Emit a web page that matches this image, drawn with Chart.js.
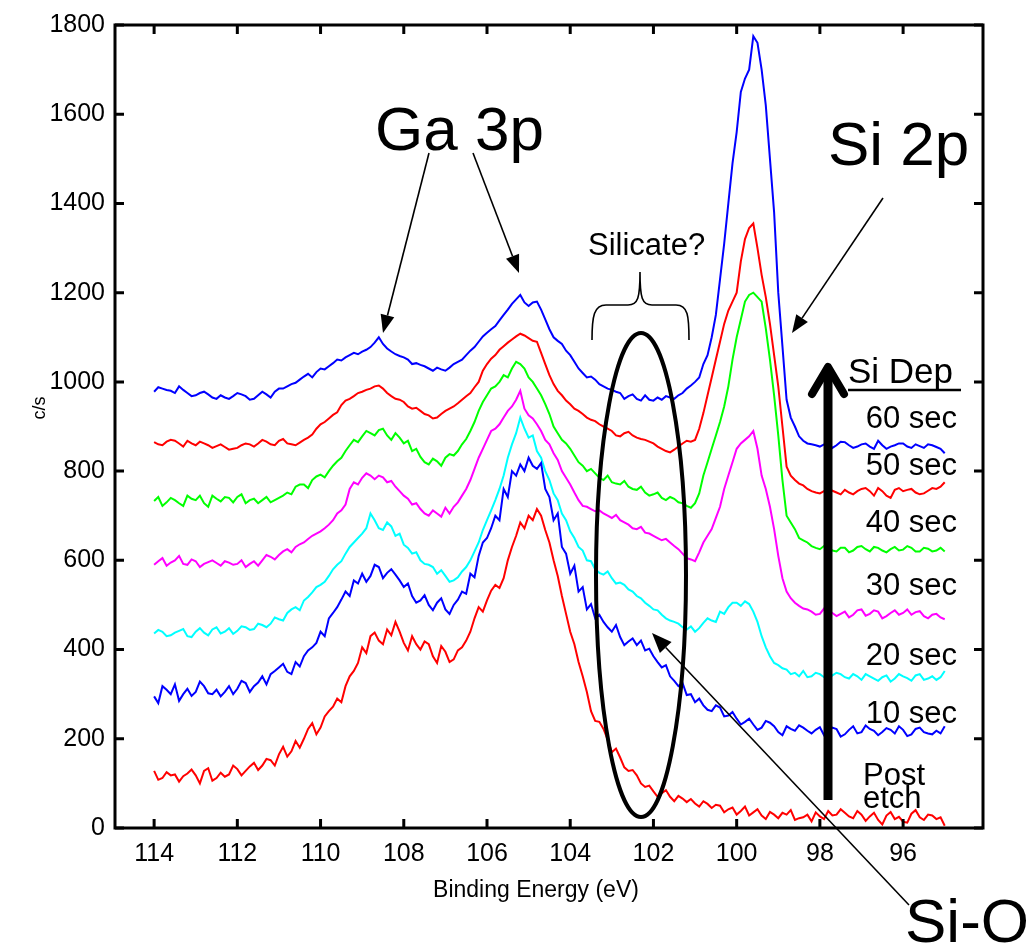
<!DOCTYPE html>
<html><head><meta charset="utf-8">
<script src="https://cdn.jsdelivr.net/npm/chart.js@4.4.1/dist/chart.umd.min.js"></script>
<style>html,body{margin:0;padding:0;background:#fff;}#wrap{width:1027px;height:948px;}</style>
</head><body><div id="wrap"><canvas id="c" width="1027" height="948"></canvas></div>
<script>
// Binding energy grid (eV)
const energies = [114.0,113.9,113.8,113.7,113.6,113.5,113.4,113.3,113.2,113.1,
 113.0,112.9,112.8,112.7,112.6,112.5,112.4,112.3,112.2,112.1,
 112.0,111.9,111.8,111.7,111.6,111.5,111.4,111.3,111.2,111.1,
 111.0,110.9,110.8,110.7,110.6,110.5,110.4,110.3,110.2,110.1,
 110.0,109.9,109.8,109.7,109.6,109.5,109.4,109.3,109.2,109.1,
 109.0,108.9,108.8,108.7,108.6,108.5,108.4,108.3,108.2,108.1,
 108.0,107.9,107.8,107.7,107.6,107.5,107.4,107.3,107.2,107.1,
 107.0,106.9,106.8,106.7,106.6,106.5,106.4,106.3,106.2,106.1,
 106.0,105.9,105.8,105.7,105.6,105.5,105.4,105.3,105.2,105.1,
 105.0,104.9,104.8,104.7,104.6,104.5,104.4,104.3,104.2,104.1,
 104.0,103.9,103.8,103.7,103.6,103.5,103.4,103.3,103.2,103.1,
 103.0,102.9,102.8,102.7,102.6,102.5,102.4,102.3,102.2,102.1,
 102.0,101.9,101.8,101.7,101.6,101.5,101.4,101.3,101.2,101.1,
 101.0,100.9,100.8,100.7,100.6,100.5,100.4,100.3,100.2,100.1,
 100.0,99.9,99.8,99.7,99.6,99.5,99.4,99.3,99.2,99.1,
 99.0,98.9,98.8,98.7,98.6,98.5,98.4,98.3,98.2,98.1,
 98.0,97.9,97.8,97.7,97.6,97.5,97.4,97.3,97.2,97.1,
 97.0,96.9,96.8,96.7,96.6,96.5,96.4,96.3,96.2,96.1,
 96.0,95.9,95.8,95.7,95.6,95.5,95.4,95.3,95.2,95.1,
 95.0];

const postEtch = [128,108,112,125,118,120,104,116,122,131,
 118,100,128,134,106,112,124,115,120,140,
 132,118,128,138,146,130,140,155,152,140,
 165,182,160,172,195,180,200,222,235,210,
 225,250,262,272,290,282,318,340,352,370,
 405,392,430,438,420,412,445,432,462,440,
 415,398,430,412,400,418,412,385,370,408,
 395,372,378,398,405,420,440,470,495,485,
 510,532,545,538,560,600,630,655,685,672,
 700,690,715,700,668,640,600,565,520,480,
 440,412,372,340,305,262,240,238,222,198,
 170,178,158,136,128,130,118,100,92,95,
 82,70,78,85,70,60,72,66,58,65,
 55,48,60,54,45,52,50,35,42,46,
 30,38,48,28,35,42,28,20,36,30,
 22,34,30,40,18,22,24,30,15,35,
 26,20,38,28,30,42,34,26,22,38,
 30,16,26,34,18,8,28,36,20,25,
 14,12,32,40,24,18,30,28,20,24,
 5];

const sec10 = [295,280,318,310,300,322,285,300,312,296,
 305,328,318,302,300,310,295,305,318,300,
 312,330,325,305,318,326,340,322,345,352,
 360,368,350,345,372,362,385,398,405,415,
 440,430,470,482,495,512,530,520,555,548,
 570,552,565,590,585,560,572,580,568,555,
 540,548,520,505,510,522,500,488,505,515,
 490,480,500,512,530,525,570,562,610,640,
 650,672,700,690,760,742,800,790,815,800,
 830,812,805,818,760,742,690,705,630,615,
 570,588,530,540,490,502,470,478,462,450,
 440,455,428,410,418,425,410,420,398,402,
 385,372,360,365,340,330,318,325,298,300,
 282,290,275,265,262,275,270,250,252,260,
 245,232,238,245,232,220,225,240,236,228,
 215,208,228,222,218,230,225,218,212,220,
 226,208,215,225,222,205,210,220,228,212,
 215,230,222,218,208,215,224,220,212,228,
 220,206,210,222,225,215,212,210,218,212,
 228];

const sec20 = [436,444,440,430,432,438,442,446,430,428,
 440,448,438,432,445,450,436,440,448,435,
 442,452,450,444,446,458,455,450,458,472,
 468,465,482,490,495,488,510,518,528,540,
 545,552,565,580,590,598,615,630,640,650,
 660,672,705,690,672,668,685,676,655,660,
 635,628,615,618,600,592,590,585,570,578,
 565,552,555,562,575,585,600,620,640,668,
 690,712,735,760,790,830,860,885,920,895,
 875,880,845,830,800,780,750,735,705,690,
 665,650,630,622,600,598,580,572,568,575,
 560,548,550,545,535,530,520,515,505,498,
 490,488,478,470,465,462,458,450,445,452,
 440,448,460,470,465,462,485,480,495,505,
 505,498,508,502,485,462,430,405,385,370,
 365,358,355,345,348,340,352,338,340,348,
 345,338,335,342,348,345,338,335,345,340,
 332,345,340,335,330,338,342,328,335,345,
 340,336,330,342,345,332,335,340,332,338,
 352];

const sec30 = [590,598,605,588,595,600,610,592,590,602,
 598,585,592,596,600,594,588,598,595,590,
 592,600,585,592,598,588,600,612,608,602,
 612,620,625,618,630,636,640,648,655,660,
 665,672,680,690,705,712,725,760,775,770,
 785,795,790,782,790,786,775,778,765,755,
 745,738,725,728,715,705,700,712,705,698,
 718,705,720,730,745,760,780,805,830,850,
 870,890,895,905,920,935,945,960,980,940,
 925,918,905,890,870,860,840,825,800,785,
 770,752,735,722,720,715,710,712,705,700,
 695,702,690,685,680,672,670,675,662,660,
 655,650,645,648,640,632,625,615,605,602,
 598,618,640,655,670,695,720,760,790,820,
 850,862,870,878,890,850,790,760,720,670,
 610,560,530,515,505,498,492,490,485,478,
 480,492,488,482,475,480,485,472,478,488,
 490,476,480,488,485,470,475,482,488,478,
 482,490,478,484,486,475,470,478,480,472,
 468];

const sec40 = [733,742,722,730,740,735,728,722,745,738,
 735,745,728,720,745,738,732,742,740,730,
 742,748,728,735,738,728,735,742,730,735,
 740,745,752,748,765,770,770,762,780,788,
 792,786,800,812,822,830,845,858,870,865,
 878,890,885,880,892,895,880,870,885,875,
 862,868,845,850,832,820,815,828,822,812,
 830,838,835,845,860,872,890,910,935,955,
 970,985,990,1000,1015,1010,1030,1045,1040,1030,
 1010,1000,985,970,950,928,900,885,870,862,
 850,835,820,812,800,805,795,785,780,790,
 775,772,770,778,765,760,758,765,752,745,
 748,752,740,735,742,738,730,728,722,718,
 728,750,790,820,850,880,910,945,990,1050,
 1100,1140,1180,1195,1200,1190,1180,1120,1050,970,
 880,780,700,685,670,650,645,640,632,628,
 625,632,630,622,620,628,628,618,622,630,
 632,625,620,630,628,622,618,625,630,622,
 624,632,628,620,620,628,626,620,622,628,
 620];

const sec50 = [865,860,858,866,870,868,862,855,868,862,
 858,866,862,858,852,856,860,854,848,850,
 852,858,862,860,855,862,870,866,860,858,
 868,872,862,860,858,864,870,875,882,895,
 905,910,918,926,932,948,958,962,968,975,
 978,982,985,990,992,985,975,968,962,960,
 955,945,940,942,935,928,925,918,920,928,
 935,940,945,952,960,968,975,988,1000,1025,
 1040,1052,1060,1072,1080,1088,1095,1102,1108,1104,
 1098,1092,1090,1065,1040,1015,995,980,970,958,
 950,940,935,928,920,915,912,905,900,895,
 890,880,878,885,888,880,875,872,870,866,
 862,855,850,845,842,848,855,862,868,866,
 870,895,930,970,1010,1050,1090,1130,1160,1180,
 1200,1270,1320,1345,1355,1300,1240,1190,1130,1060,
 990,900,810,790,780,772,768,760,755,752,
 750,755,760,756,752,748,758,752,748,755,
 760,762,755,745,762,755,745,740,758,762,
 755,758,760,752,748,750,756,762,760,765,
 775];

const sec60 = [978,988,985,982,980,975,990,982,975,968,
 970,975,978,972,965,962,970,965,962,968,
 975,972,968,960,962,970,978,972,965,978,
 985,985,990,995,998,1005,1012,1018,1010,1022,
 1030,1028,1035,1042,1050,1048,1055,1060,1065,1062,
 1068,1072,1078,1088,1100,1085,1075,1068,1062,1058,
 1055,1050,1040,1042,1038,1035,1030,1025,1032,1028,
 1025,1032,1040,1045,1050,1060,1070,1078,1090,1102,
 1110,1118,1125,1138,1150,1162,1175,1185,1195,1178,
 1170,1178,1180,1162,1140,1118,1100,1092,1085,1070,
 1060,1045,1030,1020,1010,1012,1005,995,990,985,
 982,978,975,962,968,972,962,958,970,960,
 958,965,960,968,965,962,970,975,985,992,
 1000,1010,1040,1060,1100,1150,1230,1310,1400,1490,
 1560,1650,1680,1700,1775,1760,1700,1620,1500,1380,
 1200,1080,960,920,900,878,868,862,860,858,
 855,860,862,852,858,866,865,858,852,855,
 860,862,855,850,868,858,850,855,858,862,
 862,855,852,860,856,852,860,858,854,850,
 840];

const seriesNames = ['Post etch','10 sec','20 sec','30 sec','40 sec','50 sec','60 sec'];
const seriesColors = ['#ff0000','#0000ff','#00ffff','#ff00ff','#00ff00','#ff0000','#0000ff'];
const seriesValues = [postEtch, sec10, sec20, sec30, sec40, sec50, sec60];

const xTickValues = [114,112,110,108,106,104,102,100,98,96];
const yTickValues = [0,200,400,600,800,1000,1200,1400,1600,1800];

const FONT = "'Liberation Sans', Arial, Helvetica, sans-serif";

function arrow(ctx, x1, y1, x2, y2, head, hw, lw) {
  const ang = Math.atan2(y2 - y1, x2 - x1);
  const bx = x2 - head * Math.cos(ang), by = y2 - head * Math.sin(ang);
  ctx.lineWidth = lw;
  ctx.beginPath(); ctx.moveTo(x1, y1); ctx.lineTo(bx, by); ctx.stroke();
  ctx.beginPath(); ctx.moveTo(x2, y2);
  ctx.lineTo(bx + hw * Math.sin(ang), by - hw * Math.cos(ang));
  ctx.lineTo(bx - hw * Math.sin(ang), by + hw * Math.cos(ang));
  ctx.closePath(); ctx.fill();
}

const framePlugin = {
  id: 'framePlugin',
  afterDatasetsDraw(chart) {
    const {ctx, chartArea: a, scales: {x, y}} = chart;
    ctx.save();
    ctx.strokeStyle = '#000'; ctx.lineWidth = 3;
    ctx.strokeRect(a.left, a.top, a.right - a.left, a.bottom - a.top);
    const tl = 9;
    ctx.beginPath();
    xTickValues.forEach(v => {
      const px = x.getPixelForValue(v);
      ctx.moveTo(px, a.bottom); ctx.lineTo(px, a.bottom - tl);
      ctx.moveTo(px, a.top); ctx.lineTo(px, a.top + tl);
    });
    yTickValues.forEach(v => {
      const py = y.getPixelForValue(v);
      ctx.moveTo(a.left, py); ctx.lineTo(a.left + tl, py);
      ctx.moveTo(a.right, py); ctx.lineTo(a.right - tl, py);
    });
    ctx.stroke();
    ctx.restore();
  },
  afterDraw(chart) {
    const ctx = chart.ctx;
    ctx.save();
    ctx.fillStyle = '#000'; ctx.strokeStyle = '#000';
    ctx.textBaseline = 'alphabetic';

    // axis titles
    ctx.font = '23px ' + FONT; ctx.textAlign = 'center';
    ctx.fillText('Binding Energy (eV)', 536, 897);
    ctx.save(); ctx.translate(45, 408); ctx.rotate(-Math.PI / 2);
    ctx.font = '18px ' + FONT; ctx.fillText('c/s', 0, 0); ctx.restore();

    // big labels
    ctx.textAlign = 'left';
    ctx.font = '62px ' + FONT;
    ctx.fillText('Ga 3p', 375, 150);
    ctx.fillText('Si 2p', 828, 165);
    ctx.fillText('Si-O', 905, 942);

    // arrows
    ctx.lineCap = 'butt';
    arrow(ctx, 429, 153, 383, 333, 18, 7, 1.6);
    arrow(ctx, 473, 153, 519, 273, 18, 7, 1.6);
    arrow(ctx, 883, 198, 792, 333, 18, 7, 1.6);
    arrow(ctx, 909, 905, 652, 633, 20, 8, 1.6);

    // silicate bracket
    ctx.font = '31px ' + FONT;
    ctx.fillText('Silicate?', 588, 255);
    ctx.lineWidth = 1.6;
    ctx.beginPath();
    ctx.moveTo(592, 340);
    ctx.bezierCurveTo(592, 316, 594, 305, 606, 305);
    ctx.lineTo(628, 305);
    ctx.bezierCurveTo(638, 305, 640, 298, 640, 272);
    ctx.bezierCurveTo(640, 298, 642, 305, 652, 305);
    ctx.lineTo(676, 305);
    ctx.bezierCurveTo(688, 305, 689, 316, 689, 340);
    ctx.stroke();

    // ellipse
    ctx.lineWidth = 4;
    ctx.beginPath();
    ctx.ellipse(641, 575, 45, 242, 0, 0, Math.PI * 2);
    ctx.stroke();

    // thick deposition arrow
    ctx.lineWidth = 9;
    ctx.beginPath(); ctx.moveTo(828, 800); ctx.lineTo(828, 370); ctx.stroke();
    ctx.lineWidth = 8; ctx.lineCap = 'round'; ctx.lineJoin = 'round';
    ctx.beginPath(); ctx.moveTo(812, 394); ctx.lineTo(828, 367); ctx.lineTo(844, 394); ctx.stroke();

    // Si Dep legend text
    ctx.font = '35px ' + FONT; ctx.textAlign = 'left';
    ctx.fillText('Si Dep', 848, 383);
    ctx.lineWidth = 2.5; ctx.lineCap = 'butt';
    ctx.beginPath(); ctx.moveTo(848, 390); ctx.lineTo(961, 390); ctx.stroke();

    ctx.font = '31px ' + FONT; ctx.textAlign = 'right';
    const secLabels = [['60 sec', 428], ['50 sec', 475], ['40 sec', 532], ['30 sec', 595], ['20 sec', 665], ['10 sec', 723]];
    secLabels.forEach(([t, yy]) => ctx.fillText(t, 957, yy));
    ctx.textAlign = 'left';
    ctx.fillText('Post', 863, 785);
    ctx.fillText('etch', 863, 808);
    ctx.restore();
  }
};

const datasets = seriesValues.map((vals, i) => ({
  label: seriesNames[i],
  data: energies.map((e, j) => ({x: e, y: vals[j]})),
  borderColor: seriesColors[i],
  backgroundColor: seriesColors[i],
  borderWidth: 2,
  pointRadius: 0,
  tension: 0,
  fill: false
}));

new Chart(document.getElementById('c'), {
  type: 'line',
  data: {datasets},
  options: {
    responsive: false,
    animation: false,
    devicePixelRatio: 1,
    layout: {padding: {top: 18, right: 44, left: 0, bottom: 0}},
    plugins: {legend: {display: false}, tooltip: {enabled: false}},
    scales: {
      x: {
        type: 'linear', reverse: true, min: 94.08, max: 114.94,
        afterBuildTicks: s => { s.ticks = xTickValues.map(v => ({value: v})); },
        afterFit: s => { s.height = 120; },
        grid: {display: false, drawTicks: false},
        border: {display: false},
        ticks: {color: '#000', font: {family: FONT, size: 25}, padding: 11, maxRotation: 0, autoSkip: false,
                callback: v => String(v)}
      },
      y: {
        type: 'linear', min: 0, max: 1800,
        afterBuildTicks: s => { s.ticks = yTickValues.map(v => ({value: v})); },
        afterFit: s => { s.width = 115; },
        grid: {display: false, drawTicks: false},
        border: {display: false},
        ticks: {color: '#000', font: {family: FONT, size: 25}, padding: 10, autoSkip: false,
                callback: v => String(v)}
      }
    }
  },
  plugins: [framePlugin]
});
</script></body></html>
